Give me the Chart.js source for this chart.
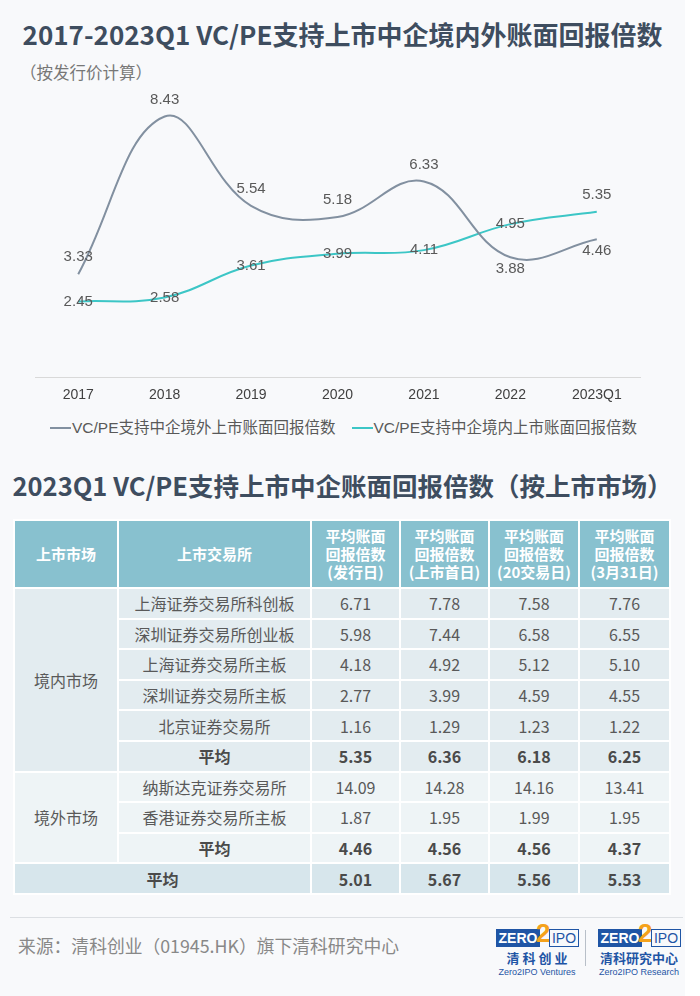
<!DOCTYPE html>
<html>
<head>
<meta charset="utf-8">
<script src="https://cdn.jsdelivr.net/npm/chart.js@4"></script>
<style>
  html, body { margin: 0; padding: 0; background: #fff; }
  body { width: 700px; height: 996px; position: relative; overflow: hidden; font-family: "Noto Sans CJK SC", sans-serif; }
  #page { position: absolute; left: 0; top: 0; width: 685px; height: 996px; background: #f8f9fb; }
  .title { position: absolute; left: 0; width: 685px; text-align: center; font-weight: bold; color: #3e4d5f; white-space: nowrap; }
  #t1 { top: 16px; font-size: 26px; line-height: 36px; }
  #sub { position: absolute; left: 20px; top: 60px; font-size: 16.5px; color: #777; }
  #chartBox { position: absolute; left: 0; top: 40px; width: 700px; height: 374px; }
  #legend { position: absolute; left: 50px; top: 416px; width: 600px; white-space: nowrap; font: 15.5px/24px "Liberation Sans", "Noto Sans CJK SC", sans-serif; color: #595959; }
  #legend .item { display: inline-block; margin-right: 16px; }
  #legend .mark { display: inline-block; width: 21px; height: 2px; vertical-align: middle; margin-right: 1px; position: relative; top: -1px; }
  #t2 { top: 467px; font-size: 25.5px; line-height: 36px; }
  table { position: absolute; left: 13px; top: 519px; width: 656px; border-collapse: collapse; table-layout: fixed; }
  td, th { border: 2px solid #fff; text-align: center; padding: 0; color: #595959; font-size: 16px; height: 28.6px; }
  th { background: #88c1cf; color: #fff; font-size: 15px; line-height: 18px; height: 66px; }
  tr.dom td { background: #e3ecf0; }
  tr.ovs td { background: #eef4f6; }
  tr.tot td { background: #d7e6ec; }
  td.b { font-weight: bold; color: #4a4a4a; }
  #rule { position: absolute; left: 10px; top: 917px; width: 673px; height: 1px; background: #dcdfe3; }
  #src { position: absolute; left: 18px; top: 932px; font-size: 17.8px; color: #888; }
  .logo { position: absolute; top: 922px; width: 82px; text-align: center; }
  .lg-top { position: relative; height: 26px; }
  .zero { position: absolute; left: 0; top: 7px; width: 44px; height: 18px; background: #1f55a5; color: #fff; font: bold 14px/18px "Liberation Sans", sans-serif; }
  .two { position: absolute; left: 40px; top: -3px; color: #f5a21b; font: bold 26px/28px "Liberation Sans", sans-serif; }
  .ipo { position: absolute; left: 53px; top: 7px; width: 28px; height: 16px; border: 1px solid #1f55a5; color: #1f55a5; font: 14px/16px "Liberation Sans", sans-serif; }
  .lg-cn { font-size: 13px; font-weight: bold; color: #1f55a5; line-height: 17px; margin-top: 1px; }
  .lg-en { font: 9px/12px "Liberation Sans", sans-serif; color: #1f55a5; }
  #vsep { position: absolute; left: 585px; top: 930px; width: 1px; height: 36px; background: #b8bfc8; }
</style>
</head>
<body>
<div id="page"></div>
<div class="title" id="t1">2017-2023Q1 VC/PE支持上市中企境内外账面回报倍数</div>
<div id="sub">（按发行价计算）</div>
<div id="chartBox"><canvas id="returnChart"></canvas></div>
<div id="legend"></div>
<div class="title" id="t2">2023Q1 VC/PE支持上市中企账面回报倍数（按上市市场）</div>

<table id="marketTable">
  <colgroup>
    <col style="width:104px"><col style="width:193px">
    <col style="width:89px"><col style="width:89px"><col style="width:90px"><col style="width:91px">
  </colgroup>
  <thead><tr id="headRow"></tr></thead>
  <tbody id="tableBody"></tbody>
</table>

<div id="rule"></div>
<div id="src">来源：清科创业（01945.HK）旗下清科研究中心</div>
<div class="logo" style="left:496px">
  <div class="lg-top"><span class="zero">ZERO</span><span class="two">2</span><span class="ipo">IPO</span></div>
  <div class="lg-cn">清&nbsp;科&nbsp;创&nbsp;业</div>
  <div class="lg-en">Zero2IPO Ventures</div>
</div>
<div id="vsep"></div>
<div class="logo" style="left:598px">
  <div class="lg-top"><span class="zero">ZERO</span><span class="two">2</span><span class="ipo">IPO</span></div>
  <div class="lg-cn">清科研究中心</div>
  <div class="lg-en">Zero2IPO Research</div>
</div>

<script>
// line chart data
const years = ['2017', '2018', '2019', '2020', '2021', '2022', '2023Q1'];
const overseasReturns = [3.33, 8.43, 5.54, 5.18, 6.33, 3.88, 4.46];
const domesticReturns = [2.45, 2.58, 3.61, 3.99, 4.11, 4.95, 5.35];
// where each value label sits relative to its point
const overseasLabelPos = ['top', 'top', 'top', 'top', 'top', 'bottom', 'bottom'];
const domesticLabelPos = ['center', 'center', 'center', 'center', 'center', 'center', 'top'];

// table data
const tableHeaders = ['上市市场', '上市交易所', '平均账面<br>回报倍数<br>(发行日)', '平均账面<br>回报倍数<br>(上市首日)', '平均账面<br>回报倍数<br>(20交易日)', '平均账面<br>回报倍数<br>(3月31日)'];
const domesticExchanges = ['上海证券交易所科创板', '深圳证券交易所创业板', '上海证券交易所主板', '深圳证券交易所主板', '北京证券交易所'];
const domesticValues = [
  ['6.71', '7.78', '7.58', '7.76'],
  ['5.98', '7.44', '6.58', '6.55'],
  ['4.18', '4.92', '5.12', '5.10'],
  ['2.77', '3.99', '4.59', '4.55'],
  ['1.16', '1.29', '1.23', '1.22']
];
const domesticAvg = ['5.35', '6.36', '6.18', '6.25'];
const overseasExchanges = ['纳斯达克证券交易所', '香港证券交易所主板'];
const overseasValues = [
  ['14.09', '14.28', '14.16', '13.41'],
  ['1.87', '1.95', '1.99', '1.95']
];
const overseasAvg = ['4.46', '4.56', '4.56', '4.37'];
const totalAvg = ['5.01', '5.67', '5.56', '5.53'];

// build table
document.getElementById('headRow').innerHTML = tableHeaders.map(h => '<th>' + h + '</th>').join('');
const cells = (vals, bold) => vals.map(v => '<td' + (bold ? ' class="b"' : '') + '>' + v + '</td>').join('');
let rows = '';
domesticExchanges.forEach((name, i) => {
  rows += '<tr class="dom">' + (i === 0 ? '<td rowspan="' + (domesticExchanges.length + 1) + '">境内市场</td>' : '') +
    '<td>' + name + '</td>' + cells(domesticValues[i]) + '</tr>';
});
rows += '<tr class="dom"><td class="b">平均</td>' + cells(domesticAvg, true) + '</tr>';
overseasExchanges.forEach((name, i) => {
  rows += '<tr class="ovs">' + (i === 0 ? '<td rowspan="' + (overseasExchanges.length + 1) + '">境外市场</td>' : '') +
    '<td>' + name + '</td>' + cells(overseasValues[i]) + '</tr>';
});
rows += '<tr class="ovs"><td class="b">平均</td>' + cells(overseasAvg, true) + '</tr>';
rows += '<tr class="tot"><td colspan="2" class="b">平均</td>' + cells(totalAvg, true) + '</tr>';
document.getElementById('tableBody').innerHTML = rows;

// value labels drawn next to each point
const valueLabels = {
  id: 'valueLabels',
  afterDatasetsDraw(chart) {
    const ctx = chart.ctx;
    ctx.save();
    ctx.font = '15px "Liberation Sans", Arial, sans-serif';
    ctx.fillStyle = '#595959';
    ctx.textAlign = 'center';
    ctx.textBaseline = 'middle';
    chart.data.datasets.forEach((ds, i) => {
      const meta = chart.getDatasetMeta(i);
      meta.data.forEach((pt, j) => {
        const pos = ds.labelPos[j];
        const dy = pos === 'top' ? -17 : pos === 'bottom' ? 12 : 0;
        ctx.fillText(ds.data[j].toFixed(2), pt.x, pt.y + dy);
      });
    });
    ctx.restore();
  }
};

const ctx = document.getElementById('returnChart');
const chart = new Chart(ctx, {
  type: 'line',
  data: {
    labels: years,
    datasets: [{
      label: 'VC/PE支持中企境外上市账面回报倍数',
      data: overseasReturns,
      labelPos: overseasLabelPos,
      borderColor: '#8290a0',
      backgroundColor: '#8290a0',
      borderWidth: 2,
      tension: 0.4,
      pointRadius: 0
    }, {
      label: 'VC/PE支持中企境内上市账面回报倍数',
      data: domesticReturns,
      labelPos: domesticLabelPos,
      borderColor: '#3cc6c6',
      backgroundColor: '#3cc6c6',
      borderWidth: 2,
      tension: 0.4,
      pointRadius: 0
    }]
  },
  options: {
    responsive: true,
    maintainAspectRatio: false,
    animation: false,
    layout: { padding: { top: 28, left: 35, right: 60, bottom: 0 } },
    scales: {
      x: {
        offset: true,
        grid: { display: true, drawOnChartArea: false, drawTicks: false },
        border: { color: '#d9d9d9', width: 1 },
        ticks: { padding: 10, color: '#404040', font: { size: 14, family: '"Liberation Sans", Arial, sans-serif' } }
      },
      y: { display: false, min: 0, max: 10 }
    },
    plugins: {
      legend: { display: false },
      tooltip: { enabled: false }
    }
  },
  plugins: [valueLabels]
});

// legend on one row, built from the chart's datasets
document.getElementById('legend').innerHTML = chart.data.datasets.map(ds =>
  '<span class="item"><span class="mark" style="background:' + ds.borderColor + '"></span>' + ds.label + '</span>'
).join('');
</script>
</body>
</html>
